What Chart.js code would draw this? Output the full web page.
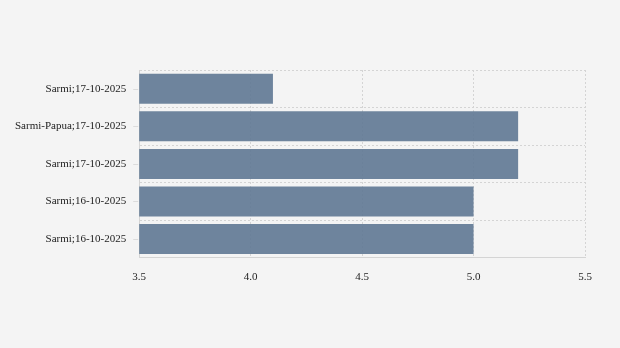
<!DOCTYPE html>
<html>
<head>
<meta charset="utf-8">
<script src="https://cdn.jsdelivr.net/npm/chart.js@4/dist/chart.umd.min.js"></script>
<style>
  html, body { margin: 0; padding: 0; background: #f4f4f4; }
  #wrap { width: 620px; height: 348px; }
</style>
</head>
<body>
<div id="wrap"><canvas id="chart"></canvas></div>
<script>
// labels and values
const labels = ['Sarmi;17-10-2025', 'Sarmi-Papua;17-10-2025', 'Sarmi;17-10-2025', 'Sarmi;16-10-2025', 'Sarmi;16-10-2025'];
const values = [4.1, 5.2, 5.2, 5.0, 5.0];
const xTicks = [3.5, 4.0, 4.5, 5.0, 5.5];

// small tick marks at the category centres on the left axis
const centreTicks = {
  id: 'centreTicks',
  afterDraw(chart) {
    const y = chart.scales.y;
    const ctx = chart.ctx;
    ctx.save();
    ctx.strokeStyle = '#dcdcdc';
    ctx.lineWidth = 1;
    for (let i = 0; i < labels.length; i++) {
      const py = Math.round(y.getPixelForValue(i)) + 0.5;
      ctx.beginPath();
      ctx.moveTo(y.right - 6, py);
      ctx.lineTo(y.right - 1, py);
      ctx.stroke();
    }
    ctx.restore();
  }
};

Chart.defaults.font.family = '"Liberation Serif", "DejaVu Serif", serif';
Chart.defaults.font.size = 11;
Chart.defaults.color = '#222';

new Chart(document.getElementById('chart'), {
  type: 'bar',
  data: {
    labels: labels,
    datasets: [{
      data: values,
      backgroundColor: 'rgba(95,120,148,0.9)',
      borderWidth: 0,
      barPercentage: 0.8,
      categoryPercentage: 1.0
    }]
  },
  options: {
    indexAxis: 'y',
    responsive: true,
    maintainAspectRatio: false,
    animation: false,
    layout: { padding: { top: 70, right: 35, bottom: 51, left: 2 } },
    plugins: { legend: { display: false }, tooltip: { enabled: false } },
    scales: {
      x: {
        min: 3.5,
        max: 5.5,
        afterBuildTicks(axis) { axis.ticks = xTicks.map(v => ({ value: v })); },
        ticks: { callback: v => v.toFixed(1), padding: 13, maxRotation: 0 },
        grid: { color: '#d4d4d4', drawTicks: false },
        border: { display: true, color: '#d4d4d4', dash: [2, 2] }
      },
      y: {
        grid: { offset: true, color: '#d4d4d4', drawTicks: false },
        ticks: { padding: 13 },
        border: { display: true, color: '#d4d4d4', dash: [2, 2] }
      }
    }
  },
  plugins: [centreTicks]
});
</script>
</body>
</html>
